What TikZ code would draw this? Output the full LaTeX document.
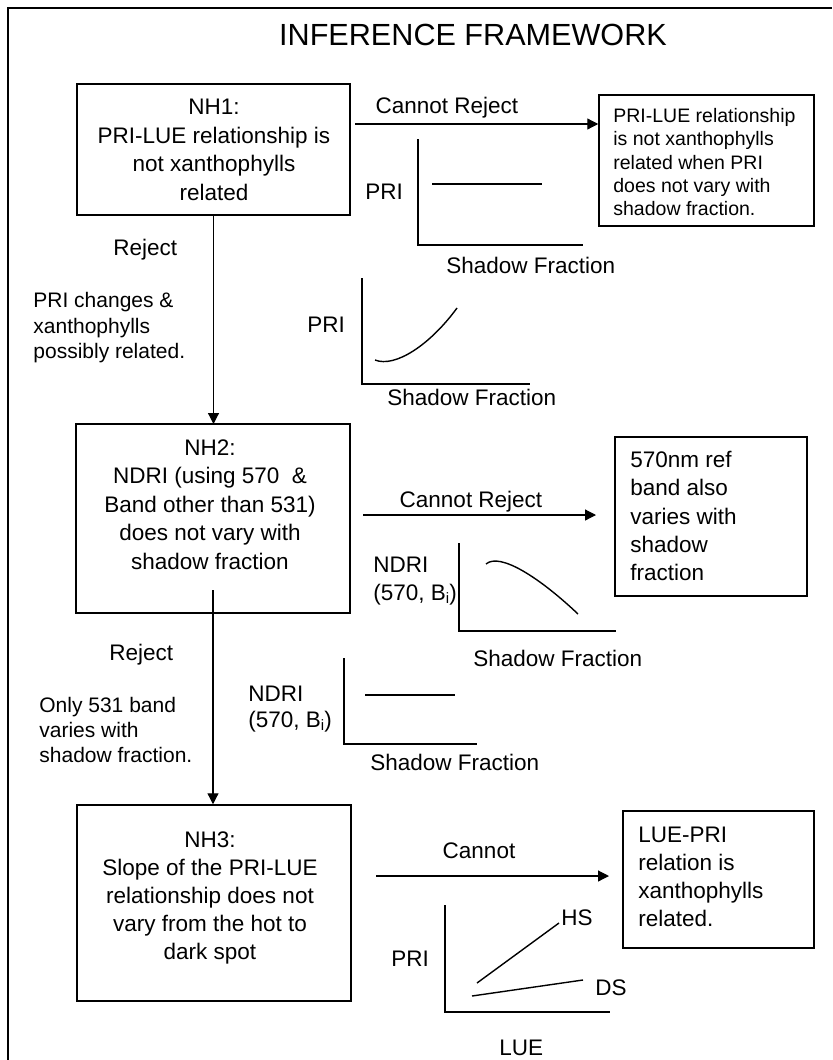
\documentclass[tikz,border=0pt]{standalone}
\usepackage{fontspec}
\setmainfont{Liberation Sans}
\usetikzlibrary{arrows.meta}
\newcommand{\subi}{{\fontsize{7.5}{8}\selectfont\raisebox{-1.2pt}{i}}}
\begin{document}
\begin{tikzpicture}[x=0.5pt,y=-0.5pt,
  frame/.style={line width=1pt},
  box/.style={draw,line width=0.75pt,inner sep=0pt},
  txt/.style={inner sep=0pt,font=\fontsize{11.25}{14.25}\selectfont},
  smalltxt/.style={inner sep=0pt,font=\fontsize{9.75}{11.65}\selectfont},
  side/.style={inner sep=0pt,font=\fontsize{10.5}{12.75}\selectfont},
  arr/.style={line width=0.6pt,-{Triangle[length=5.5pt,width=5.5pt]}},
  axis/.style={line width=0.75pt},
  curve/.style={line width=0.7pt}]
\useasboundingbox (0,0) rectangle (832,1060);
\fill[white] (0,0) rectangle (832,1060);
% outer frame (partly visible)
\draw[frame] (8,1060) -- (8,8) -- (832,8);
% title
\node[inner sep=0pt,font=\fontsize{15.3}{18}\selectfont,anchor=base] (title) at (473,45) {INFERENCE FRAMEWORK};

% ---------- NH1 ----------
\node[box,minimum width=136.5pt,minimum height=65.5pt] (nh1) at (213.5,149.5) {};
\node[txt,align=center,anchor=north] (nh1t) at (214,99) {NH1:\\PRI-LUE relationship is\\not xanthophylls\\related};
\node[box,minimum width=107.5pt,minimum height=65.5pt] (r1) at (706.5,160.5) {};
\node[smalltxt,align=left,anchor=north west] (r1t) at (613,108) {PRI-LUE relationship\\is not xanthophylls\\related when PRI\\does not vary with\\shadow fraction.};
\coordinate (a1s) at (355,124);
\draw[arr] (a1s) -- (a1s -| r1.west);
\node[txt,anchor=base] (cr1) at (447,113) {Cannot Reject};
% graph 1
\draw[axis] (418,139) -- (418,245) -- (583,245);
\draw[curve] (432,184) -- (542,184);
\node[txt,anchor=base west] (pri1) at (365,199) {PRI};
\node[txt,anchor=base west] (sf1) at (446,273) {Shadow Fraction};
% reject 1
\node[txt,anchor=base west] (rej1) at (113,255) {Reject};
\node[side,align=left,anchor=north west] (note1) at (33,292) {PRI changes \&\\xanthophylls\\possibly related.};
% graph 2
\draw[axis] (362,278) -- (362,384) -- (530,384);
\draw[curve] (375,360) .. controls (395,368) and (430,345) .. (457,308);
\node[txt,anchor=base west] (pri2) at (307,332) {PRI};
\node[txt,anchor=base west] (sf2) at (387,405) {Shadow Fraction};
\draw[arr] (nh1.south) -- (nh1.south |- 0,424);

% ---------- NH2 ----------
\node[box,minimum width=137pt,minimum height=94.5pt] (nh2) at (213,518.5) {};
\node[txt,align=center,anchor=north,font=\fontsize{11.25}{14.25}\selectfont] (nh2t) at (210,439) {NH2:\\NDRI (using 570\ \ \&\\Band other than 531)\\does not vary with\\shadow fraction};
\node[box,minimum width=96pt,minimum height=79.5pt] (r2) at (711,516.5) {};
\node[txt,align=left,anchor=north west,font=\fontsize{11.25}{14.1}\selectfont] (r2t) at (630,451) {570nm ref\\band also\\varies with\\shadow\\fraction};
\coordinate (a2s) at (363,515);
\coordinate (a2e) at (596,515);
\draw[arr] (a2s) -- (a2e);
\node[txt,anchor=base] (cr2) at (471,507) {Cannot Reject};
% graph NDRI 1
\draw[axis] (459,543) -- (459,631) -- (616,631);
\draw[curve] (486,564) .. controls (500,552) and (540,578) .. (578,614);
\node[txt,align=left,anchor=north west,font=\fontsize{11.25}{14}\selectfont] (nd1) at (373,557) {NDRI\\(570, B\subi)};
\node[txt,anchor=base west] (sf3) at (473,666) {Shadow Fraction};
% reject 2
\node[txt,anchor=base west] (rej2) at (109,660) {Reject};
\node[side,align=left,anchor=north west,font=\fontsize{10.5}{12.5}\selectfont] (note2) at (39,697) {Only 531 band\\varies with\\shadow fraction.};
% graph NDRI 2
\draw[axis] (344,658) -- (344,744) -- (477,744);
\draw[curve] (365,695) -- (455,695);
\node[txt,align=left,anchor=north west,font=\fontsize{11.25}{13}\selectfont] (nd2) at (248,686) {NDRI\\(570, B\subi)};
\node[txt,anchor=base west] (sf4) at (370,770) {Shadow Fraction};
\coordinate (v2s) at (213,590);

% ---------- NH3 ----------
\node[box,minimum width=137pt,minimum height=98pt] (nh3) at (214,903) {};
\draw[arr] (v2s) -- (v2s |- nh3.north);
\node[txt,align=center,anchor=north,font=\fontsize{11.25}{14}\selectfont] (nh3t) at (210,831) {NH3:\\Slope of the PRI-LUE\\relationship does not\\vary from the hot to\\dark spot};
\node[box,minimum width=95.5pt,minimum height=68.5pt] (r3) at (718.5,879.5) {};
\node[txt,align=left,anchor=north west,font=\fontsize{11.25}{14}\selectfont] (r3t) at (638,827) {LUE-PRI\\relation is\\xanthophylls\\related.};
\coordinate (a3s) at (376,876);
\coordinate (a3e) at (609,876);
\draw[arr] (a3s) -- (a3e);
\node[txt,anchor=base] (cn3) at (479,858) {Cannot};
% graph 3
\draw[axis] (445,905) -- (445,1012) -- (610,1012);
\coordinate (hs0) at (477,983);
\coordinate (hs1) at (559,923);
\coordinate (ds0) at (472,996);
\coordinate (ds1) at (583,980);
\draw[curve] (hs0) -- (hs1);
\draw[curve] (ds0) -- (ds1);
\node[txt,anchor=base west] (hs) at (561,925) {HS};
\node[txt,anchor=base west] (ds) at (595,995) {DS};
\node[txt,anchor=base west] (pri3) at (391,966) {PRI};
\node[txt,anchor=base west] (lue) at (499,1055) {LUE};
\end{tikzpicture}
\end{document}
